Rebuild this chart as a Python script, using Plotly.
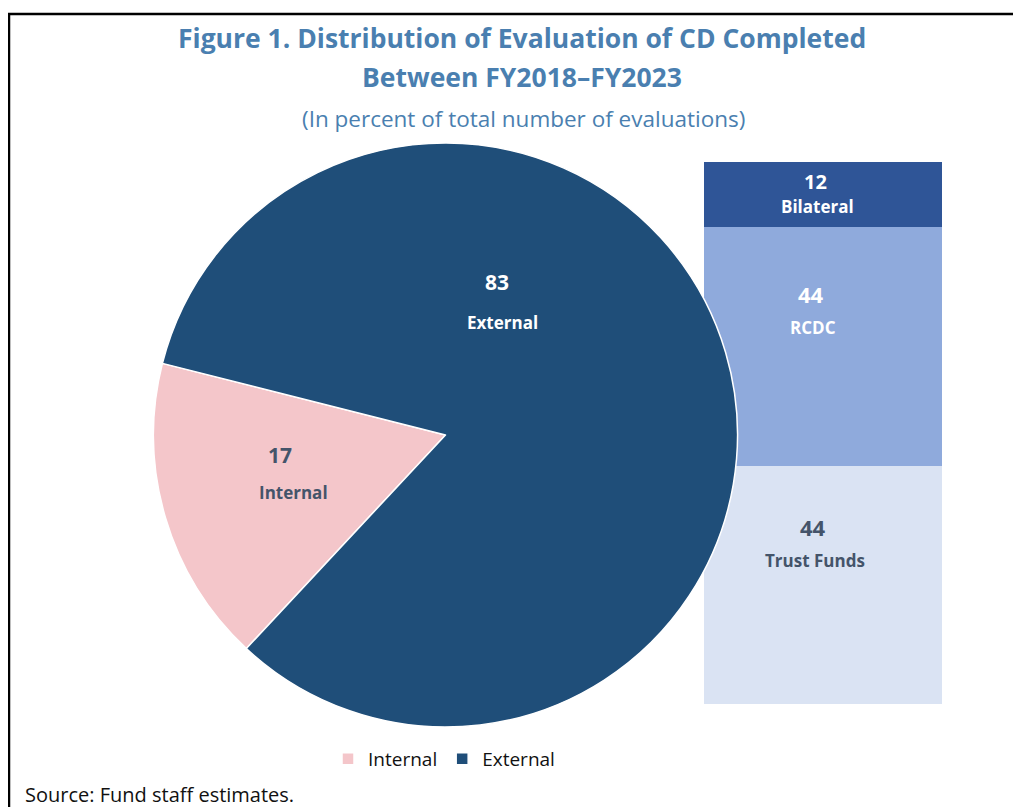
import plotly.graph_objects as go

# pie: evaluation type
pie_labels = ["Internal", "External"]
pie_values = [17, 83]
pie_colors = ["#F4C6CA", "#1F4E79"]

# stacked bar: breakdown of external evaluations (bottom to top)
bar_labels = ["Trust Funds", "RCDC", "Bilateral"]
bar_values = [44, 44, 12]
bar_colors = ["#DAE3F3", "#8FAADC", "#2F5597"]
bar_text_colors = ["#44546A", "white", "white"]

title_color = "#4A7FB0"
font_family = "Open Sans, Noto Sans, sans-serif"

# the page body adds an 8px margin, so the figure is a bit smaller than the window
OFF = 8
W, H = 1021 - OFF, 807 - OFF


def fx(px):
    return (px - OFF) / W


def fy(py):
    return 1 - (py - OFF) / H


fig = go.Figure()

# stacked bar first so the pie sits on top of it
for lab, val, col in zip(bar_labels, bar_values, bar_colors):
    fig.add_trace(go.Bar(
        x=[0], y=[val], name=lab, marker=dict(color=col, line=dict(width=0)),
        width=1, showlegend=False, hoverinfo="skip",
    ))

fig.add_trace(go.Pie(
    labels=pie_labels, values=pie_values, sort=False, direction="clockwise",
    rotation=223, marker=dict(colors=pie_colors, line=dict(color="white", width=1.5)),
    textinfo="none", domain=dict(x=[fx(153.5), fx(737.5)], y=[fy(727), fy(143)]),
    hoverinfo="label+value",
))

annotations = []

# labels inside the stacked bar: (number shift, label shift, x shift) in px
bar_text_shift = [(58, 24, -10), (52, 19, -12), (13, -12, -8)]
bar_num_size = [22, 22, 20]
base = 0
for lab, val, tc, (ns, ls, xs), nsz in zip(bar_labels, bar_values, bar_text_colors,
                                           bar_text_shift, bar_num_size):
    mid = base + val / 2
    annotations.append(dict(
        x=0, y=mid, xref="x", yref="y", yshift=ns, xshift=xs, showarrow=False,
        xanchor="center", yanchor="middle",
        text=f"<b>{val}</b>", font=dict(size=nsz, color=tc, family=font_family),
    ))
    annotations.append(dict(
        x=0, y=mid, xref="x", yref="y", yshift=ls, xshift=xs + 2, showarrow=False,
        xanchor="center", yanchor="middle",
        text=f"<b>{lab}</b>", font=dict(size=17, color=tc, family=font_family),
    ))
    base += val

# labels on the pie: number position, label position (reference px)
pie_num_pos = [(280, 455), (497, 282)]
pie_lab_pos = [(293, 492), (502, 322)]
pie_text_colors = ["#44546A", "white"]
for lab, val, (nx, ny), (lx, ly), tc in zip(pie_labels, pie_values, pie_num_pos, pie_lab_pos, pie_text_colors):
    annotations.append(dict(
        x=fx(nx), y=fy(ny), xref="paper", yref="paper", showarrow=False,
        xanchor="center", yanchor="middle",
        text=f"<b>{val}</b>", font=dict(size=21, color=tc, family=font_family),
    ))
    annotations.append(dict(
        x=fx(lx), y=fy(ly), xref="paper", yref="paper", showarrow=False,
        xanchor="center", yanchor="middle",
        text=f"<b>{lab}</b>", font=dict(size=17, color=tc, family=font_family),
    ))

# titles and source
annotations += [
    dict(x=fx(522), y=fy(38), xref="paper", yref="paper", showarrow=False,
         xanchor="center", yanchor="middle",
         text="<b>Figure 1. Distribution of Evaluation of CD Completed</b>",
         font=dict(size=26.5, color=title_color, family=font_family)),
    dict(x=fx(522), y=fy(77), xref="paper", yref="paper", showarrow=False,
         xanchor="center", yanchor="middle",
         text="<b>Between FY2018\u2013FY2023</b>",
         font=dict(size=26.5, color=title_color, family=font_family)),
    dict(x=fx(523), y=fy(119), xref="paper", yref="paper", showarrow=False,
         xanchor="center", yanchor="middle",
         text="(In percent of total number of evaluations)",
         font=dict(size=22.5, color=title_color, family=font_family)),
    dict(x=fx(23), y=fy(794), xref="paper", yref="paper", showarrow=False,
         xanchor="left", yanchor="middle",
         text="Source: Fund staff estimates.",
         font=dict(size=20, color="#111111", family=font_family)),
]

fig.update_layout(
    width=W, height=H, margin=dict(l=0, r=0, t=0, b=0),
    paper_bgcolor="white", plot_bgcolor="white",
    barmode="stack", bargap=0,
    font=dict(family=font_family),
    xaxis=dict(domain=[fx(704), fx(942)], range=[-0.5, 0.5], visible=False, fixedrange=True),
    yaxis=dict(domain=[fy(704), fy(162)], range=[0, 100], visible=False, fixedrange=True),
    showlegend=True,
    legend=dict(orientation="h", x=fx(444), xanchor="center", y=fy(759), yanchor="middle",
                font=dict(size=19, color="#111111", family=font_family),
                traceorder="normal", itemwidth=30),
    annotations=annotations,
    shapes=[dict(type="path", xref="paper", yref="paper",
                 path=f"M {fx(9)} 0 L {fx(9)} {fy(14)} L 1 {fy(14)}",
                 line=dict(color="black", width=2.5))],
)

fig.write_html("out.html")
